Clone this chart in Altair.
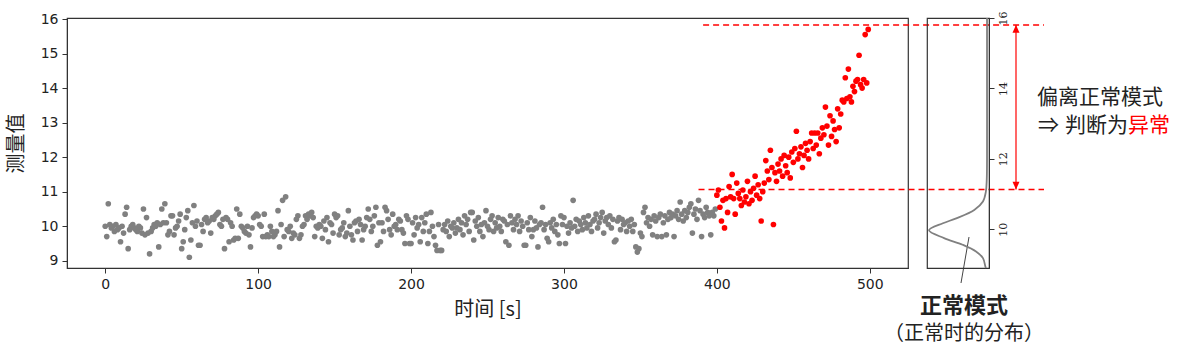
import altair as alt
import pandas as pd

# ---------------- data ----------------
NORMAL_VALUES = [
    10.00, 9.70, 10.65, 10.05, 9.95, 10.00, 9.85, 10.05, 9.90, 9.95,
    9.55, 10.00, 9.80, 10.35, 10.55, 9.35, 9.90, 10.00, 10.05, 9.95,
    9.90, 9.85, 10.00, 9.95, 9.80, 10.50, 9.75, 10.25, 9.80, 9.20,
    9.85, 9.95, 10.05, 10.00, 10.10, 9.40, 10.05, 10.50, 10.10, 10.65,
    10.10, 9.75, 9.85, 10.30, 10.30, 9.75, 9.95, 10.00, 10.15, 10.35,
    9.35, 9.55, 9.90, 10.25, 10.45, 9.10, 9.60, 10.10, 10.60, 10.00,
    10.15, 9.45, 9.45, 10.05, 9.85, 10.20, 10.25, 10.10, 10.15, 9.80,
    10.25, 10.20, 10.30, 10.35, 10.40, 10.05, 10.00, 10.20, 9.35, 10.25,
    10.20, 9.55, 10.10, 10.00, 9.60, 9.65, 10.50, 9.65, 10.35, 10.00,
    9.95, 9.85, 9.80, 10.00, 9.75, 9.40, 9.95, 10.25, 10.30, 10.35,
    10.30, 10.05, 10.00, 9.70, 10.35, 9.70, 9.75, 9.70, 10.00, 9.85,
    9.70, 9.75, 9.85, 10.45, 9.40, 10.05, 10.75, 9.70, 10.85, 9.90,
    9.85, 10.00, 9.65, 9.80, 9.75, 10.20, 10.30, 9.65, 9.75, 10.00,
    10.05, 10.30, 10.20, 10.35, 10.30, 10.40, 10.25, 9.70, 10.00, 9.95,
    10.05, 10.00, 9.65, 10.15, 9.90, 10.25, 9.55, 10.10, 10.05, 9.80,
    10.35, 10.25, 10.30, 9.75, 9.90, 9.95, 10.10, 9.70, 9.80, 10.45,
    10.00, 9.75, 9.60, 10.10, 10.15, 9.85, 10.20, 10.05, 9.60, 9.90,
    10.00, 10.25, 10.50, 10.20, 9.85, 10.00, 10.30, 10.55, 9.45, 10.10,
    9.55, 10.10, 9.85, 10.55, 10.45, 10.20, 9.90, 9.75, 10.35, 10.00,
    10.05, 9.90, 10.20, 10.15, 9.90, 9.80, 9.50, 10.30, 10.20, 9.50,
    9.50, 10.10, 9.75, 10.25, 9.95, 10.05, 9.55, 10.25, 9.85, 10.10,
    10.35, 9.50, 9.85, 10.40, 10.00, 9.70, 9.45, 9.30, 10.05, 9.30,
    9.30, 9.90, 10.05, 9.85, 10.15, 9.70, 10.00, 9.95, 10.10, 9.80,
    9.95, 10.20, 9.90, 10.10, 9.75, 10.30, 10.05, 10.20, 9.85, 10.40,
    10.40, 9.60, 10.15, 10.00, 10.25, 9.85, 10.05, 9.70, 10.10, 10.45,
    10.00, 9.90, 10.20, 10.30, 9.85, 10.10, 9.95, 10.25, 10.00, 9.85,
    10.20, 10.15, 9.55, 10.05, 9.45, 10.30, 10.10, 9.90, 10.20, 10.05,
    10.30, 9.85, 10.15, 10.00, 9.45, 9.45, 10.10, 9.90, 10.25, 9.70,
    9.90, 10.15, 9.95, 9.40, 10.05, 10.10, 10.55, 9.90, 10.05, 9.65,
    9.55, 10.10, 9.95, 10.20, 9.85, 10.05, 9.75, 9.50, 10.30, 10.05,
    10.25, 9.50, 10.00, 9.80, 10.10, 9.95, 10.75, 10.00, 10.20, 9.85,
    10.15, 10.05, 9.90, 10.25, 10.10, 9.95, 10.30, 10.05, 9.85, 10.15,
    10.20, 10.35, 9.95, 10.10, 10.25, 10.40, 9.80, 10.15, 10.25, 10.05,
    10.30, 9.95, 10.20, 9.55, 9.60, 10.15, 10.25, 9.90, 10.20, 10.05,
    10.10, 9.85, 10.15, 10.00, 10.20, 9.85, 10.05, 9.40, 9.25, 9.35,
    9.80, 9.70, 10.40, 10.55, 10.10, 10.25, 10.00, 10.20, 9.75, 10.30,
    10.15, 9.70, 10.25, 10.35, 9.70, 10.10, 10.30, 9.75, 10.20, 10.40,
    10.25, 10.35, 9.70, 10.30, 10.45, 10.20, 10.70, 10.35, 10.15, 10.45,
    10.25, 10.40, 10.55, 10.65, 9.80, 10.35, 10.50, 10.20, 10.75, 10.45,
    9.70, 10.35, 10.25, 10.55, 10.40, 10.30, 9.75, 10.40, 10.30, 10.50,
]

ANOMALY_VALUES = [
    10.90, 11.05, 10.55, 10.15, 10.75, 9.95, 10.80, 10.40, 11.15, 10.85,
    11.50, 10.80, 10.35, 11.25, 10.95, 10.80, 10.60, 11.05, 10.70, 10.85,
    11.30, 10.65, 11.00, 10.75, 11.10, 11.45, 10.90, 11.20, 10.80, 10.15,
    11.00, 11.25, 11.90, 11.60, 11.35, 12.20, 11.70, 10.05, 11.55, 11.30,
    11.80, 11.60, 11.95, 11.45, 12.05, 11.75, 11.55, 12.00, 11.40, 12.15,
    11.85, 12.25, 12.75, 11.95, 12.10, 12.30, 11.70, 12.05, 12.40, 12.20,
    11.95, 12.45, 12.70, 12.25, 12.70, 12.35, 12.70, 12.10, 12.55, 12.85,
    12.65, 13.45, 12.90, 12.35, 13.20, 12.60, 13.05, 12.80, 12.45, 13.40,
    12.85, 13.25, 13.65, 13.60, 14.30, 13.70, 14.55, 13.75, 13.60, 14.05,
    13.90, 14.20, 14.25, 14.95, 14.10, 14.00, 14.25, 15.55, 14.15, 15.70,
]

X_TICKS = [0, 100, 200, 300, 400, 500]
Y_TICKS = [9, 10, 11, 12, 13, 14, 15, 16]
R_TICKS = [10, 12, 14, 16]

THRESH = [15.83, 11.06]        # dashed red lines (measurement value)
RULE_START = [391, 388]        # where each dashed line begins (seconds)

# normal-time distribution (value, relative density)
DIST_VALUE = [8.90, 8.95, 9.18, 9.37, 9.56, 9.75, 9.97, 10.17, 10.31, 10.55, 10.79, 11.07, 11.4, 12.0, 14.0, 16.0]
DIST_DENS = [0.02, 0.03, 0.07, 0.19, 0.42, 0.74, 1.00, 0.76, 0.53, 0.22, 0.07, 0.02, 0.005, 0.0, 0.0, 0.0]

GRAY = "#808080"
RED = "#ff0000"
CJK = "Noto Sans CJK SC"

n_norm = len(NORMAL_VALUES)
pts = pd.DataFrame({
    "t": list(range(n_norm)) + list(range(n_norm, n_norm + len(ANOMALY_VALUES))),
    "v": NORMAL_VALUES + ANOMALY_VALUES,
    "kind": ["normal"] * n_norm + ["anomaly"] * len(ANOMALY_VALUES),
})
rules_df = pd.DataFrame({"thr": THRESH, "start": RULE_START, "which": ["top", "bottom"]})
span_df = pd.DataFrame({"top": [THRESH[0]], "bot": [THRESH[1]]})
dist_df = pd.DataFrame({"v": DIST_VALUE, "d": DIST_DENS, "i": list(range(len(DIST_VALUE)))})

W, H = 841, 250

xs = alt.Scale(domain=[-25, 525], nice=False, zero=False)
ys = alt.Scale(domain=[8.79, 16.03], nice=False, zero=False)
X_AXIS = alt.Axis(values=X_TICKS, title="时间 [s]", grid=False, format="d", labelOverlap=False)
Y_AXIS = alt.Axis(values=Y_TICKS, title="测量值", grid=False, format="d", labelOverlap=False)

points = alt.Chart(pts).mark_circle(size=32, opacity=1).encode(
    x=alt.X("t:Q", scale=xs, axis=X_AXIS),
    y=alt.Y("v:Q", scale=ys, axis=Y_AXIS),
    color=alt.Color("kind:N", scale=alt.Scale(domain=["normal", "anomaly"], range=[GRAY, RED]), legend=None),
)

dashed = alt.Chart(rules_df).mark_rule(color=RED, strokeWidth=1.5, strokeDash=[6, 4]).encode(
    x=alt.X("start:Q", scale=xs, axis=X_AXIS), x2=alt.value(977),
    y=alt.Y("thr:Q", scale=ys, axis=Y_AXIS)
)

arrow_line = alt.Chart(span_df).mark_rule(color=RED, strokeWidth=1.2).encode(
    x=alt.value(949), y=alt.Y("top:Q", scale=ys, axis=Y_AXIS), y2="bot:Q"
)
arrow_up = alt.Chart(rules_df).transform_filter(alt.datum.which == "top").mark_point(
    shape="M0,-1L-0.8,0.8L0.8,0.8Z", filled=True, size=77, color=RED, opacity=1, yOffset=4.4
).encode(x=alt.value(949), y=alt.Y("thr:Q", scale=ys, axis=Y_AXIS))
arrow_down = alt.Chart(rules_df).transform_filter(alt.datum.which == "bottom").mark_point(
    shape="M0,1L-0.8,-0.8L0.8,-0.8Z", filled=True, size=77, color=RED, opacity=1, yOffset=-4.4
).encode(x=alt.value(949), y=alt.Y("thr:Q", scale=ys, axis=Y_AXIS))

txt1 = alt.Chart(span_df).mark_text(text="偏离正常模式", font=CJK, fontSize=21, align="left",
                                    baseline="middle", color="#222222").encode(
    x=alt.value(970), y=alt.value(80))
txt2a = alt.Chart(span_df).mark_text(text="⇒", font=CJK, fontSize=21, align="left",
                                     baseline="middle", color="#222222").encode(
    x=alt.value(971), y=alt.value(108))
txt2 = alt.Chart(span_df).mark_text(text="判断为", font=CJK, fontSize=21, align="right",
                                    baseline="middle", color="#222222").encode(
    x=alt.value(1061), y=alt.value(108))
txt3 = alt.Chart(span_df).mark_text(text="异常", font=CJK, fontSize=21, align="left",
                                    baseline="middle", color=RED).encode(
    x=alt.value(1061), y=alt.value(108))
txt4 = alt.Chart(span_df).mark_text(text="正常模式", font=CJK, fontSize=22, fontWeight="bold",
                                    align="center", baseline="middle", color="#222222").encode(
    x=alt.value(897), y=alt.value(288))
txt5 = alt.Chart(span_df).mark_text(text="（正常时的分布）", font=CJK, fontSize=20,
                                    align="center", baseline="middle", color="#222222").encode(
    x=alt.value(897), y=alt.value(316))
pointer = alt.Chart(span_df).mark_rule(color="#444444", strokeWidth=1).encode(
    x=alt.value(894), x2=alt.value(902), y=alt.value(265), y2=alt.value(219))

main = alt.layer(points, dashed, arrow_line, arrow_up, arrow_down,
                 txt1, txt2a, txt2, txt3, txt4, txt5, pointer).properties(width=W, height=H)

side = alt.Chart(dist_df).mark_line(color=GRAY, strokeWidth=1.8, interpolate="catmull-rom").encode(
    x=alt.X("d:Q", scale=alt.Scale(domain=[-0.034, 1.034], reverse=True, nice=False, zero=False), axis=None),
    y=alt.Y("v:Q", scale=alt.Scale(domain=[8.9, 16.0], nice=False, zero=False),
            axis=alt.Axis(orient="right", values=R_TICKS, title=None, grid=False, format="d",
                          labelAngle=270, labelFont="DejaVu Serif", labelFontSize=11,
                          labelAlign="center", labelBaseline="top", labelPadding=3,
                          labelOverlap=False)),
    order="i:Q",
).properties(width=62, height=H)

chart = alt.hconcat(main, side, spacing=19, bounds="flush").properties(
    padding={"left": 5, "top": 10, "right": 5, "bottom": 5}
).configure_view(
    stroke="#333333", strokeWidth=1.2
).configure_axis(
    domainColor="#333333", tickColor="#333333", tickSize=5, labelColor="#222222",
    labelFont="DejaVu Sans", labelFontSize=14, titleFont=CJK, titleFontSize=20,
    titleFontWeight="normal", titleColor="#222222", labelPadding=4
).configure_axisLeft(
    titlePadding=14, tickCount=8, labelOverlap=False
).configure_axisBottom(titlePadding=8)

chart.save("out.html", embed_options={"renderer": "svg", "actions": False})
